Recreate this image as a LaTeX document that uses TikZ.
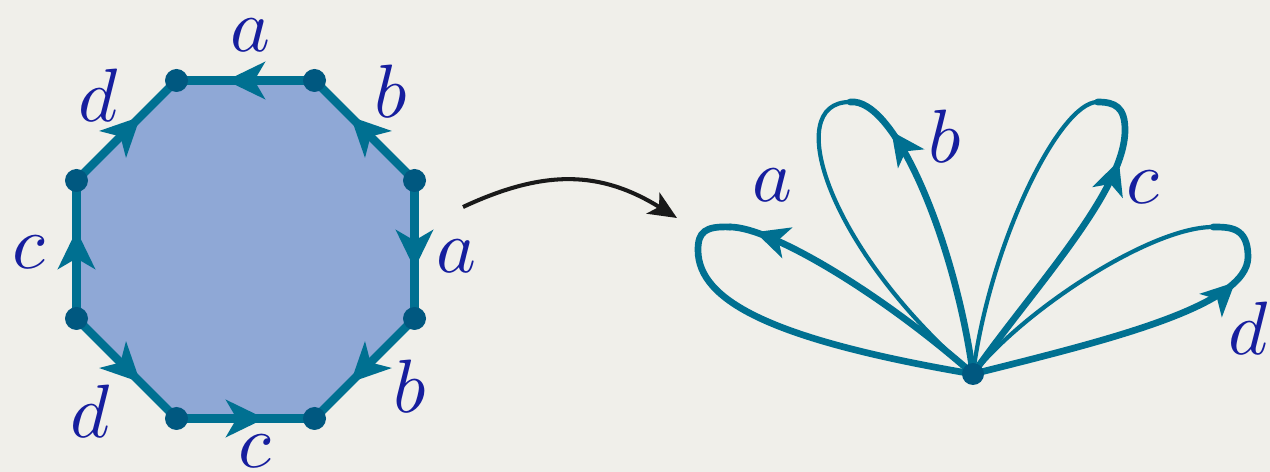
\documentclass[tikz,border=0pt]{standalone}
\usetikzlibrary{arrows.meta,decorations.markings}

\definecolor{paper}{RGB}{240,239,234}
\definecolor{edgeblue}{RGB}{0,112,145}
\definecolor{dotblue}{RGB}{0,88,128}
\definecolor{facefill}{RGB}{143,168,214}
\definecolor{letterblue}{RGB}{22,30,158}

\tikzset{
  side/.style={draw=edgeblue, line width=4.8pt},
  flow/.style={postaction={decorate},
    decoration={markings, mark=at position #1 with {\arrow{Stealth[length=22pt,width=21pt,inset=6pt]}}}},
  flow/.default=0.64,
  petal/.style={draw=edgeblue, line width=3.8pt, line cap=round},
  thinpetal/.style={draw=edgeblue, line width=2.4pt, line cap=round},
  loopflow/.style={postaction={decorate},
    decoration={markings, mark=at position #1 with {\arrow{Stealth[length=19pt,width=18pt,inset=5pt]}}}},
  lab/.style={text=letterblue, inner sep=0pt, scale=4.3},
}

\begin{document}
\begin{tikzpicture}
  \useasboundingbox (0,0) rectangle (25.4,9.44);
  \fill[paper] (0,0) rectangle (25.4,9.44);

  % octagon
  \coordinate (v1) at (3.53,7.83);
  \coordinate (v2) at (6.29,7.83);
  \coordinate (v3) at (8.29,5.83);
  \coordinate (v4) at (8.29,3.07);
  \coordinate (v5) at (6.29,1.07);
  \coordinate (v6) at (3.53,1.07);
  \coordinate (v7) at (1.53,3.07);
  \coordinate (v8) at (1.53,5.83);

  \fill[facefill] (v1) -- (v2) -- (v3) -- (v4) -- (v5) -- (v6) -- (v7) -- (v8) -- cycle;

  \draw[side,flow] (v2) -- (v1);
  \draw[side,flow] (v3) -- (v2);
  \draw[side,flow] (v3) -- (v4);
  \draw[side,flow] (v4) -- (v5);
  \draw[side,flow] (v6) -- (v5);
  \draw[side,flow] (v7) -- (v6);
  \draw[side,flow] (v7) -- (v8);
  \draw[side,flow] (v8) -- (v1);

  \fill[dotblue] (v1) circle (0.23) (v2) circle (0.23) (v3) circle (0.23)
    (v4) circle (0.23) (v5) circle (0.23) (v6) circle (0.23)
    (v7) circle (0.23) (v8) circle (0.23);

  \node[lab] (topa) at (5.00,8.74) {$a$};
  \node[lab] (upb) at (7.82,7.62) {$b$};
  \node[lab] (righta) at (9.12,4.32) {$a$};
  \node[lab] (lowb) at (8.20,1.72) {$b$};
  \node[lab] (botc) at (5.10,0.42) {$c$};
  \node[lab] (lowd) at (1.80,1.22) {$d$};
  \node[lab] (leftc) at (0.58,4.40) {$c$};
  \node[lab] (upd) at (1.96,7.54) {$d$};

  % the map
  \coordinate (from) at (9.26,5.30);
  \coordinate (to) at (13.54,5.08);
  \draw[line width=2.3pt, black!90, -{Stealth[length=16pt,width=14pt,inset=4pt]}]
    (from) .. controls (10.89,6.06) and (12.01,6.03) .. (to);

  % bouquet of four loops
  \coordinate (base) at (19.46,1.96);

  \coordinate (atop) at (14.6,4.9);
  \coordinate (aleft) at (13.96,4.44);
  \draw[petal,loopflow=0.91] (base) .. controls (17.6,3.6) and (15.4,4.9) .. (atop);
  \draw[petal] (atop) .. controls (14.1,4.92) and (13.96,4.8) .. (aleft)
    .. controls (13.96,3.4) and (15.52,2.63) .. (base);

  \coordinate (btop) at (17.0,7.4);
  \draw[petal,loopflow=0.83] (base) .. controls (19.1,4.6) and (17.9,7.5) .. (btop);
  \draw[thinpetal] (btop) .. controls (15.6,7.4) and (16.6,4.4) .. (base);

  \coordinate (cright) at (22.5,6.84);
  \coordinate (ctop) at (21.95,7.4);
  \draw[petal,loopflow=0.77] (base) .. controls (20.6,3.6) and (22.5,5.6) .. (cright)
    .. controls (22.5,7.3) and (22.3,7.4) .. (ctop);
  \draw[thinpetal] (ctop) .. controls (21.2,7.4) and (19.8,4.6) .. (base);

  \coordinate (dright) at (24.96,4.3);
  \coordinate (dtop) at (24.26,4.9);
  \draw[petal,loopflow=0.77] (base) .. controls (22.0,2.6) and (24.96,3.3) .. (dright)
    .. controls (24.96,4.9) and (24.6,4.9) .. (dtop);
  \draw[thinpetal] (dtop) .. controls (23.0,4.9) and (20.45,3.22) .. (base);

  \fill[dotblue] (base) circle (0.22);

  \node[lab] (loopa) at (15.44,5.74) {$a$};
  \node[lab] (loopb) at (18.90,6.72) {$b$};
  \node[lab] (loopc) at (22.86,5.70) {$c$};
  \node[lab] (loopd) at (24.96,2.88) {$d$};
\end{tikzpicture}
\end{document}
